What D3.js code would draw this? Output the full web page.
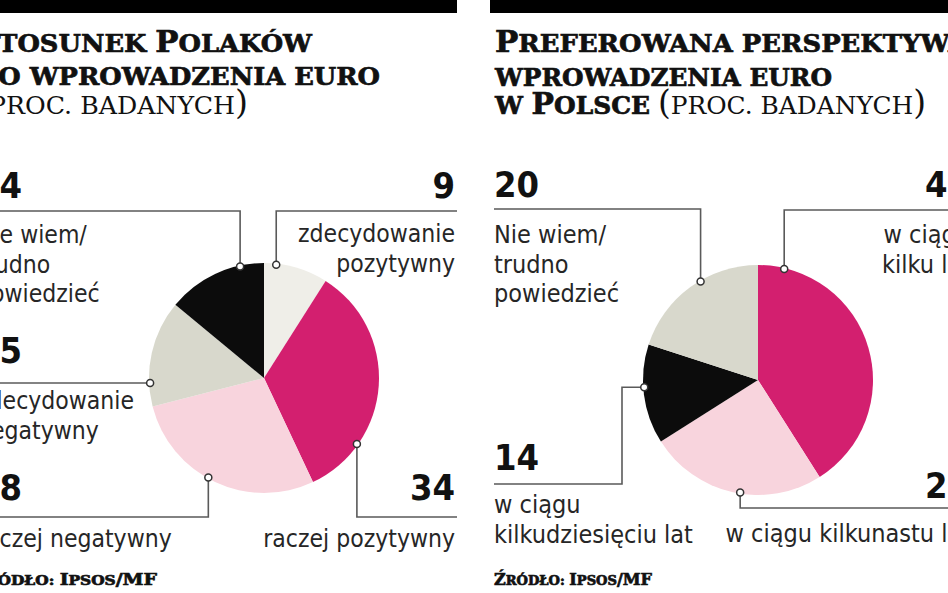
<!DOCTYPE html>
<html>
<head>
<meta charset="utf-8">
<script src="https://cdn.jsdelivr.net/npm/d3@7"></script>
<style>
	html, body { margin: 0; padding: 0; background: #fff; overflow: hidden; }
	svg { display: block; }
	.lbl { font-family: "DejaVu Sans Condensed", "DejaVu Sans", sans-serif; font-stretch: condensed; fill: #262626; }
	.num { font-family: "DejaVu Sans Condensed", "DejaVu Sans", sans-serif; font-stretch: condensed; font-weight: bold; font-size: 36px; fill: #111; }
	.ttl { font-family: "DejaVu Serif", serif; fill: #111; }
	.leader { fill: none; stroke: #5a5a5a; stroke-width: 1.6; }
	.dot { fill: #fff; stroke: #333; stroke-width: 1.5; }
</style>
</head>
<body>
<svg id="chart" width="948" height="593"></svg>
<script>
	// Data (percent of respondents)
	var attitudeLabels = ['zdecydowanie\npozytywny', 'raczej pozytywny', 'raczej negatywny', 'zdecydowanie\nnegatywny', 'Nie wiem/\ntrudno\npowiedzieć'];
	var attitudeValues = [9, 34, 28, 15, 14];
	var attitudeColors = ['#efeee8', '#d31f6f', '#f8d4dd', '#d8d8cc', '#0c0c0c'];

	var horizonLabels = ['w ciągu\nkilku lat', 'w ciągu kilkunastu lat', 'w ciągu\nkilkudziesięciu lat', 'Nie wiem/\ntrudno\npowiedzieć'];
	var horizonValues = [41, 25, 14, 20];
	var horizonColors = ['#d31f6f', '#f8d4dd', '#0c0c0c', '#d8d8cc'];

	var titleLeft = ['Stosunek Polaków', 'do wprowadzenia euro'];
	var titleRight = ['Preferowana perspektywa', 'wprowadzenia euro', 'w Polsce'];
	var unitText = '(proc. badanych)';
	var sourceText = 'Źródło: Ipsos/MF';

	// Layout of the two panels (the picture is cropped at both sides)
	var panels = [
		{
			x0: -27, x1: 457, cx: 264, cy: 378, r: 115,
			labels: attitudeLabels, values: attitudeValues, colors: attitudeColors,
			title: titleLeft, unitOwnLine: true,
			titleX: -24, titleY: [52, 85, 114], titleW: [336, 404, 272],
			srcX: -29, srcW: 186, srcY: 585, lblSize: 24.5,
			callouts: [
				{side: 'right', t: 0.19, numY: 198, textY: 242, route: 'v', lineY: 211},
				{side: 'right', t: 0.76, numY: 500, textY: 547, route: 'v', lineY: 517},
				{side: 'left', t: 0.54, numY: 500, textY: 547, route: 'v', lineY: 517},
				{side: 'left', t: 0.22, numY: 363, textY: 409, route: 'h'},
				{side: 'left', t: 0.76, numY: 198, textY: 243, route: 'v', lineY: 211}
			]
		},
		{
			x0: 490, x1: 972, cx: 758, cy: 380, r: 115,
			labels: horizonLabels, values: horizonValues, colors: horizonColors,
			title: titleRight, unitOwnLine: false,
			titleX: 495, titleY: [52, 86, 114], titleW: [473, 337, 431],
			srcX: 494, srcW: 158, srcY: 585, lblSize: 25,
			callouts: [
				{side: 'right', t: 0.09, numY: 197, textY: 243, route: 'v', lineY: 210},
				{side: 'right', t: 0.46, numY: 498, textY: 542, route: 'v', lineY: 508},
				{side: 'left', t: 0.57, numY: 470, textY: 513, route: 'hv', elbowX: 622, lineY: 484},
				{side: 'left', t: 0.58, numY: 197, textY: 243, route: 'v', lineY: 209}
			]
		}
	];

	var svg = d3.select('#chart');

	// Small-caps writer: capitals big, lower-case letters as smaller capitals
	function capsText(sel, str, big, small, weight) {
		var runs = [];
		for (var i = 0; i < str.length; i++) {
			var ch = str[i];
			var size;
			if (ch === '(' || ch === ')') size = big + 3;
			else if (ch === '/' || (ch !== ch.toLowerCase())) size = big;
			else size = small;
			var last = runs[runs.length - 1];
			if (last && last.size === size) last.text += ch.toUpperCase();
			else runs.push({size: size, text: ch.toUpperCase()});
		}
		runs.forEach(function(run) {
			sel.append('tspan')
				.attr('font-size', run.size)
				.attr('font-weight', weight)
				.attr('stroke', weight === 'bold' ? '#111' : 'none')
				.attr('stroke-width', 0.7)
				.text(run.text);
		});
	}

	var line = d3.line();

	panels.forEach(function(p) {
		var g = svg.append('g');

		// Black band on top
		g.append('rect')
			.attr('x', p.x0).attr('y', 0)
			.attr('width', p.x1 - p.x0).attr('height', 13)
			.attr('fill', '#000');

		// Title
		var titleLines = p.title.map(function(t) { return [{text: t, weight: 'bold'}]; });
		if (p.unitOwnLine) titleLines.push([{text: unitText, weight: 'normal'}]);
		else titleLines[titleLines.length - 1].push({text: ' ' + unitText, weight: 'normal'});

		titleLines.forEach(function(segs, i) {
			var t = g.append('text')
				.attr('class', 'ttl')
				.attr('x', p.titleX)
				.attr('y', p.titleY[i])
				.attr('textLength', p.titleW[i])
				.attr('lengthAdjust', 'spacingAndGlyphs');
			segs.forEach(function(s) { capsText(t, s.text, 30, 25, s.weight); });
		});

		// Pie
		var pie = d3.pie().sort(null).value(function(d) { return d; });
		var arc = d3.arc().innerRadius(0).outerRadius(p.r);
		var slices = pie(p.values);

		var pg = g.append('g').attr('transform', 'translate(' + p.cx + ',' + p.cy + ')');
		pg.selectAll('path')
			.data(slices)
			.enter().append('path')
				.attr('d', arc)
				.attr('fill', function(d, i) { return p.colors[i]; });

		// Callouts: leader, dot, number, label
		slices.forEach(function(s, i) {
			var c = p.callouts[i];
			var ang = s.startAngle + c.t * (s.endAngle - s.startAngle);
			var pt = d3.pointRadial(ang, p.r - 1);
			var a = [p.cx + pt[0], p.cy + pt[1]];
			var edgeX = c.side === 'left' ? p.x0 + 4 : p.x1;
			var pts;
			if (c.route === 'h') pts = [a, [edgeX, a[1]]];
			else if (c.route === 'hv') pts = [a, [c.elbowX, a[1]], [c.elbowX, c.lineY], [edgeX, c.lineY]];
			else pts = [a, [a[0], c.lineY], [edgeX, c.lineY]];

			g.append('path').attr('class', 'leader').attr('d', line(pts));
			g.append('circle').attr('class', 'dot')
				.attr('cx', a[0]).attr('cy', a[1]).attr('r', 3.5);

			var tx = c.side === 'left' ? p.x0 + 4 : p.x1 - 2;
			var anchor = c.side === 'left' ? 'start' : 'end';

			g.append('text')
				.attr('class', 'num')
				.attr('x', tx).attr('y', c.numY)
				.attr('text-anchor', anchor)
				.text(s.data);

			var lt = g.append('text')
				.attr('class', 'lbl')
				.attr('font-size', p.lblSize)
				.attr('text-anchor', anchor);
			p.labels[i].split('\n').forEach(function(row, j) {
				lt.append('tspan')
					.attr('x', tx)
					.attr('y', c.textY + j * 29.5)
					.text(row);
			});
		});

		// Source line
		var src = g.append('text')
			.attr('class', 'ttl')
			.attr('x', p.srcX).attr('y', p.srcY)
			.attr('textLength', p.srcW)
			.attr('lengthAdjust', 'spacingAndGlyphs');
		capsText(src, sourceText, 16, 13, 'bold');
	});
</script>
</body>
</html>
